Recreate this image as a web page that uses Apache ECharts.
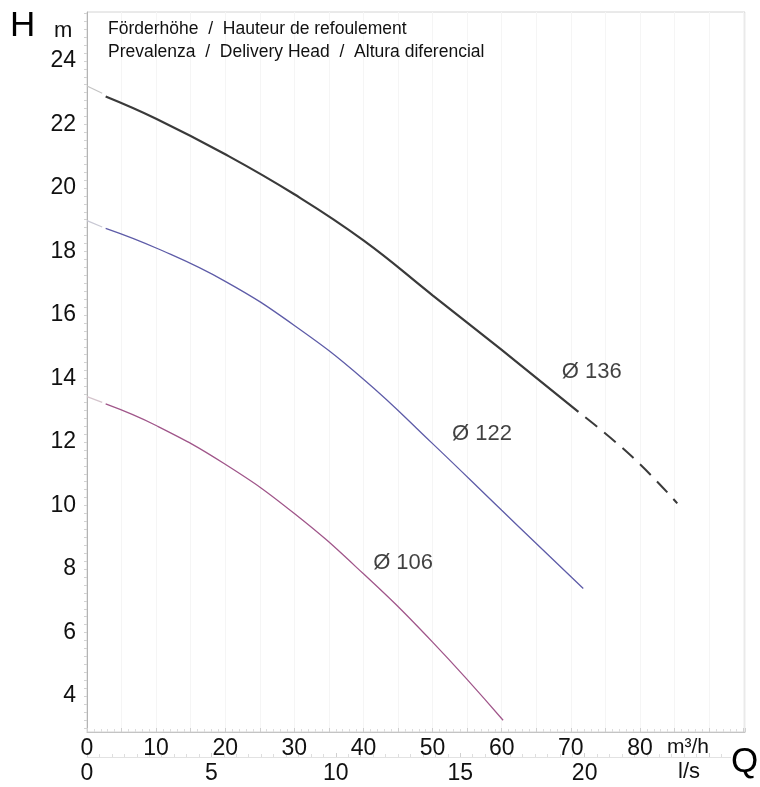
<!DOCTYPE html>
<html>
<head>
<meta charset="utf-8">
<script src="https://cdn.jsdelivr.net/npm/echarts@6/dist/echarts.min.js"></script>
<style>
html,body{margin:0;padding:0;background:#fff;}
#c{width:760px;height:787px;}
</style>
</head>
<body>
<div id="c"></div>
<script>
// ---- data (Q in m3/h, H in m) ----
const yTickLabels = [4, 6, 8, 10, 12, 14, 16, 18, 20, 22, 24];
const qTickLabels = [0, 10, 20, 30, 40, 50, 60, 70, 80];
const lsTickLabels = [0, 5, 10, 15, 20];

const q136 = [2.7, 10, 20, 30, 40, 50, 60, 71.1];
const h136 = [22.88, 22.18, 21.06, 19.8, 18.35, 16.62, 14.9, 12.95];
const q136tail = [71.1, 78.8, 85.4];
const h136tail = [12.95, 11.55, 10.07];
const q136lead = [0, 2.2];
const h136lead = [23.21, 22.98];

const q122 = [2.7, 10, 20, 30, 40, 50, 60, 71.8];
const h122 = [18.73, 18.11, 17.06, 15.67, 13.98, 11.95, 9.85, 7.39];
const q122lead = [0, 2.2];
const h122lead = [18.97, 18.77];

const q106 = [2.7, 10, 20, 30, 40, 50, 60.2];
const h106 = [13.2, 12.52, 11.3, 9.75, 7.85, 5.7, 3.24];
const q106lead = [0, 2.2];
const h106lead = [13.43, 13.25];

const curveNames = ['Ø 136', 'Ø 122', 'Ø 106'];
const labelQ = [68.7, 52.8, 41.4];
const labelH = [14.2, 12.25, 8.19];

const titleLines = ['Förderhöhe  /  Hauteur de refoulement', 'Prevalenza  /  Delivery Head  /  Altura diferencial'];

// ---- build ----
const zip = (a, b) => a.map((v, i) => [v, b[i]]);
const F = "'Liberation Sans', Arial, Helvetica, sans-serif";
const yMin = 2.87, yMax = 25.54, qMax = 95.2;

const yMinorTicks = [];
for (let v = 3; v <= 25.5; v += 0.25) yMinorTicks.push(+v.toFixed(2));

const chart = echarts.init(document.getElementById('c'));
const lineSeries = (data, color, width) => ({
  type: 'line', data: data, xAxisIndex: 0, yAxisIndex: 0,
  smooth: 0.45, symbol: 'none', silent: true, z: 3,
  lineStyle: { color: color, width: width, type: 'solid', cap: 'butt' }
});

chart.setOption({
  animation: false,
  backgroundColor: '#fff',
  grid: { left: 87, right: 15, top: 12, bottom: 55, show: true, borderColor: '#d4d4d4', borderWidth: 1 },
  xAxis: [
    {
      type: 'value', min: 0, max: qMax, interval: 5, position: 'bottom',
      axisLine: { show: true, lineStyle: { color: '#c4c4c4', width: 1 } },
      axisTick: { show: true, inside: true, length: 4, lineStyle: { color: '#cfcfcf' } },
      minorTick: { show: true, splitNumber: 5, length: 3, lineStyle: { color: '#dddddd' } },
      axisLabel: {
        margin: 5, fontSize: 23, color: '#111', fontFamily: F, showMaxLabel: false,
        formatter: v => (qTickLabels.indexOf(v) >= 0 ? String(v) : '')
      },
      splitLine: { show: true, lineStyle: { color: '#f5f5f5', width: 1 } }
    },
    {
      type: 'value', min: 0, max: qMax / 3.6, interval: 5, position: 'bottom', offset: 25,
      axisLine: { show: true, lineStyle: { color: '#e2e2e2', width: 1 } },
      axisTick: { show: true, inside: true, length: 4, lineStyle: { color: '#d0d0d0' } },
      minorTick: { show: true, splitNumber: 10, length: 3, lineStyle: { color: '#dedede' } },
      axisLabel: {
        margin: 5, fontSize: 23, color: '#111', fontFamily: F, showMaxLabel: false,
        formatter: v => (lsTickLabels.indexOf(v) >= 0 ? String(v) : '')
      },
      splitLine: { show: false }
    }
  ],
  yAxis: {
    type: 'value', min: yMin, max: yMax,
    axisLine: { show: true, lineStyle: { color: '#b4b4b4', width: 1 } },
    axisTick: { show: true, customValues: yMinorTicks, length: 3, lineStyle: { color: '#d2d2d2' } },
    axisLabel: { customValues: yTickLabels, margin: 11, fontSize: 23, color: '#111', fontFamily: F },
    splitLine: { show: false }
  },
  series: [
    lineSeries(zip(q136lead, h136lead), '#c4c4c4', 1.2),
    lineSeries(zip(q122lead, h122lead), '#c8c8d4', 1.2),
    lineSeries(zip(q106lead, h106lead), '#d4c4cc', 1.2),
    lineSeries(zip(q136, h136), '#3a3a3a', 2.2),
    { ...lineSeries(zip(q136tail, h136tail), '#3a3a3a', 2), lineStyle: { color: '#3a3a3a', width: 2, type: [15, 9], dashOffset: -9 } },
    lineSeries(zip(q122, h122), '#5e5ca8', 1.3),
    lineSeries(zip(q106, h106), '#a0568a', 1.3),
    {
      type: 'scatter', symbolSize: 0, silent: true, z: 5,
      data: curveNames.map((n, i) => ({ name: n, value: [labelQ[i], labelH[i]] })),
      label: { show: true, position: 'right', distance: 0, formatter: p => p.name, fontSize: 22, color: '#111', fontFamily: F }
    }
  ],
  graphic: [
    { type: 'text', z: 100, left: 10, top: 9, style: { text: 'H', fontSize: 35, fontFamily: F, fill: '#000' } },
    { type: 'text', z: 100, left: 54, top: 20, style: { text: 'm', fontSize: 22, fontFamily: F, fill: '#111' } },
    { type: 'text', z: 100, left: 108, top: 20, style: { text: titleLines[0], fontSize: 17.5, fontFamily: F, fill: '#111' } },
    { type: 'text', z: 100, left: 108, top: 43, style: { text: titleLines[1], fontSize: 17.5, fontFamily: F, fill: '#111' } },
    { type: 'text', z: 100, left: 667, top: 737, style: { text: 'm³/h', fontSize: 21, fontFamily: F, fill: '#111' } },
    { type: 'text', z: 100, left: 678, top: 761, style: { text: 'l/s', fontSize: 22, fontFamily: F, fill: '#111' } },
    { type: 'text', z: 100, left: 731, top: 745, style: { text: 'Q', fontSize: 35, fontFamily: F, fill: '#000', backgroundColor: '#fff' } }
  ]
});
</script>
</body>
</html>
